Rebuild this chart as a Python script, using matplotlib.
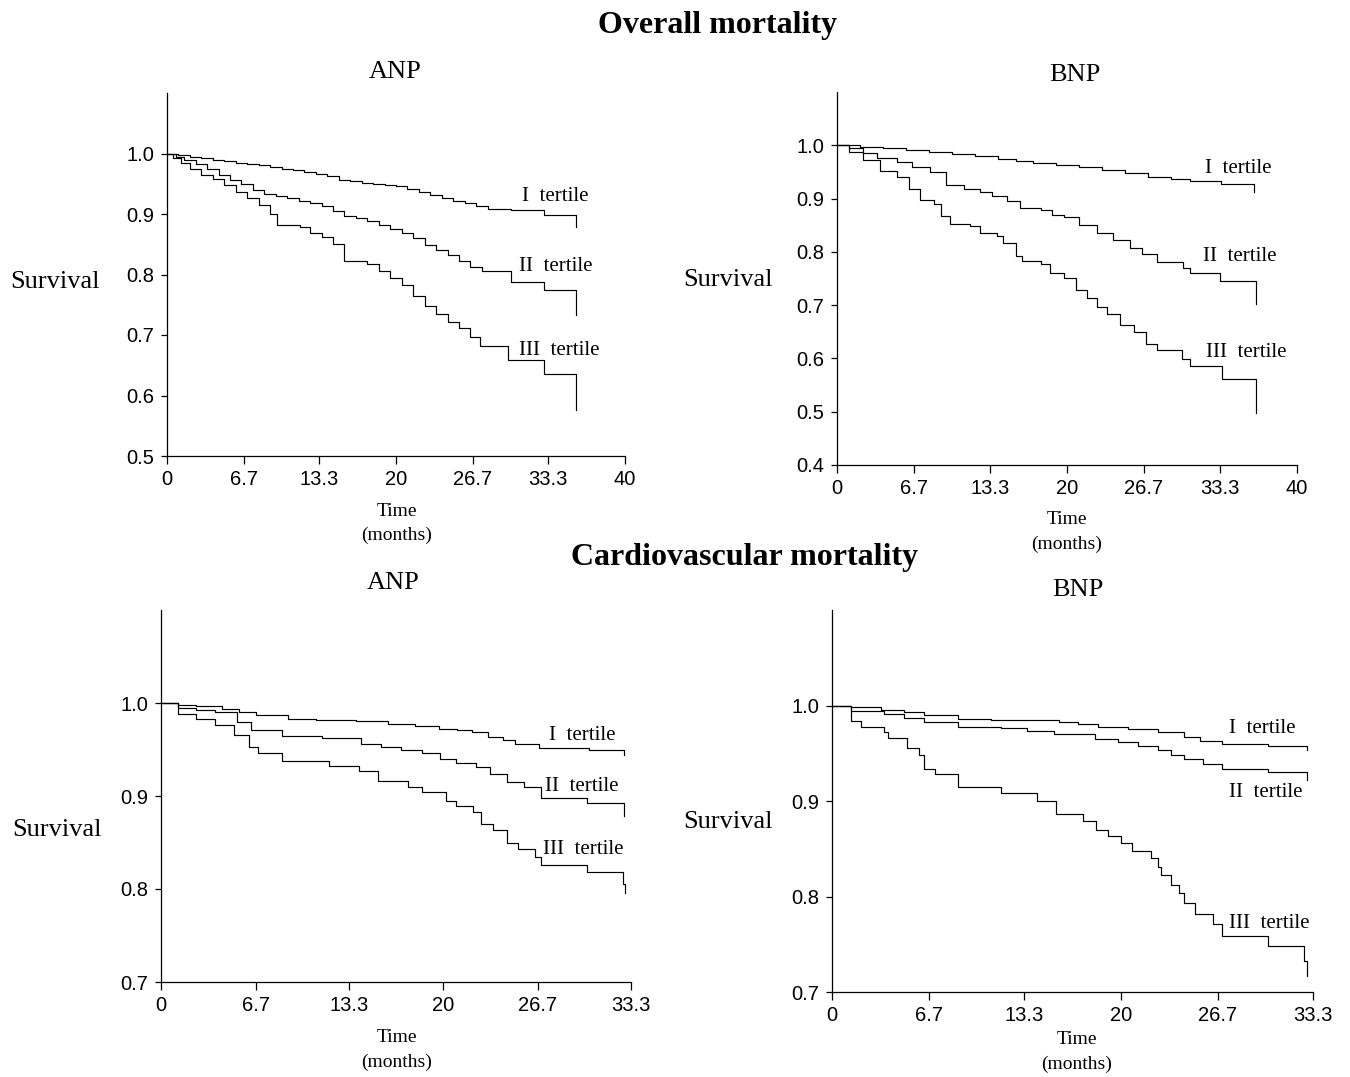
import matplotlib
matplotlib.use('Agg')
import matplotlib.pyplot as plt

# overall mortality, ANP tertiles
ov_anp_t1 = [0, 1, 2, 3, 4, 5, 6, 7, 8, 9, 10, 11, 12, 13, 14, 15, 16, 17, 18, 19, 20, 21, 22, 23, 24, 25, 26, 27, 28, 29, 30, 32.9, 35.7]
ov_anp_s1 = [1.0, 0.998, 0.995, 0.992, 0.99, 0.987, 0.985, 0.983, 0.981, 0.978, 0.975, 0.972, 0.969, 0.966, 0.962, 0.957, 0.955, 0.952, 0.95, 0.948, 0.946, 0.941, 0.936, 0.931, 0.926, 0.922, 0.918, 0.914, 0.909, 0.908, 0.906, 0.899, 0.879]
ov_anp_t2 = [0, 0.8, 1.5, 2.5, 3.5, 4.5, 5.5, 6.5, 7.5, 8.5, 9.5, 10.5, 11.5, 12.5, 13.5, 14.5, 15.5, 16.5, 17.5, 18.5, 19.5, 20.5, 21.5, 22.5, 23.5, 24.5, 25.5, 26.5, 27.5, 28.5, 30, 32.9, 35.7]
ov_anp_s2 = [1.0, 0.995, 0.99, 0.982, 0.974, 0.965, 0.957, 0.949, 0.94, 0.933, 0.93, 0.926, 0.922, 0.919, 0.914, 0.905, 0.896, 0.893, 0.888, 0.882, 0.876, 0.869, 0.86, 0.848, 0.84, 0.833, 0.822, 0.812, 0.806, 0.805, 0.788, 0.774, 0.733]
ov_anp_t3 = [0, 0.5, 1.2, 2, 3, 4, 5, 6, 7, 8, 9, 9.6, 11.6, 12.5, 13.5, 14.5, 15.5, 17.5, 18.5, 19.5, 20.5, 21.5, 22.5, 23.5, 24.5, 25.5, 26.5, 27.3, 29.8, 32.9, 35.7]
ov_anp_s3 = [1.0, 0.993, 0.985, 0.975, 0.965, 0.958, 0.948, 0.937, 0.926, 0.915, 0.9, 0.882, 0.879, 0.868, 0.862, 0.85, 0.822, 0.818, 0.806, 0.795, 0.782, 0.765, 0.748, 0.735, 0.722, 0.712, 0.697, 0.681, 0.658, 0.636, 0.576]

# overall mortality, BNP tertiles
ov_bnp_t1 = [0, 2, 4, 6, 8, 10, 12, 14, 15.6, 17, 19, 21, 23, 25, 27, 29, 30.7, 33.4, 36.3]
ov_bnp_s1 = [1.0, 0.997, 0.994, 0.991, 0.988, 0.984, 0.98, 0.975, 0.97, 0.967, 0.963, 0.96, 0.954, 0.948, 0.941, 0.937, 0.933, 0.927, 0.912]
ov_bnp_t2 = [0, 1, 2.3, 3.5, 5.2, 6.5, 8.1, 9.5, 11, 12.4, 13.5, 14.8, 15.9, 17.7, 18.7, 19.7, 21, 22.6, 24, 25.5, 26.5, 27.8, 30.1, 30.7, 33.3, 36.4]
ov_bnp_s2 = [1.0, 0.994, 0.985, 0.977, 0.969, 0.96, 0.95, 0.925, 0.918, 0.912, 0.905, 0.896, 0.882, 0.878, 0.87, 0.865, 0.851, 0.836, 0.822, 0.808, 0.796, 0.781, 0.77, 0.761, 0.746, 0.703]
ov_bnp_t3 = [0, 1, 2.3, 3.7, 5.2, 6.3, 7.2, 8.4, 9, 9.8, 11.6, 12.4, 13.9, 14.4, 15.6, 16.1, 17.7, 18.5, 19.7, 20.8, 21.7, 22.6, 23.5, 24.6, 25.8, 26.9, 27.8, 30, 30.7, 33.5, 36.4]
ov_bnp_s3 = [1.0, 0.988, 0.972, 0.951, 0.941, 0.918, 0.898, 0.89, 0.867, 0.852, 0.848, 0.836, 0.83, 0.817, 0.792, 0.782, 0.778, 0.761, 0.751, 0.729, 0.713, 0.697, 0.684, 0.662, 0.65, 0.627, 0.615, 0.599, 0.586, 0.561, 0.498]

# cardiovascular mortality, ANP tertiles
cv_anp_t1 = [0, 1.2, 2.5, 4.3, 5.5, 6.7, 9.0, 11, 13.8, 16.1, 18, 19.7, 21, 22, 23.2, 24.2, 25.1, 26.8, 30.3, 32.8]
cv_anp_s1 = [1.0, 0.998, 0.997, 0.994, 0.99, 0.987, 0.983, 0.982, 0.981, 0.977, 0.975, 0.972, 0.971, 0.969, 0.963, 0.96, 0.956, 0.952, 0.949, 0.944]
cv_anp_t2 = [0, 1.2, 2.5, 3.8, 5.4, 6.4, 8.6, 11.4, 14.2, 15.6, 17, 18.5, 19.8, 20.9, 22.3, 23.3, 24.5, 25.7, 26.9, 30.2, 32.8]
cv_anp_s2 = [1.0, 0.995, 0.993, 0.99, 0.98, 0.971, 0.964, 0.962, 0.956, 0.953, 0.95, 0.946, 0.94, 0.935, 0.931, 0.924, 0.915, 0.91, 0.898, 0.892, 0.879]
cv_anp_t3 = [0, 1.2, 2.5, 3.8, 5.2, 6.2, 6.9, 8.6, 11.9, 14.0, 15.4, 17.5, 18.5, 20.2, 20.9, 22.1, 22.7, 23.5, 24.5, 25.3, 26.5, 26.9, 30.2, 32.7, 32.9]
cv_anp_s3 = [1.0, 0.988, 0.983, 0.976, 0.966, 0.953, 0.946, 0.938, 0.932, 0.927, 0.916, 0.91, 0.904, 0.895, 0.889, 0.883, 0.87, 0.863, 0.85, 0.843, 0.834, 0.826, 0.818, 0.805, 0.796]

# cardiovascular mortality, BNP tertiles
cv_bnp_t1 = [0, 1.3, 3.4, 5, 6.4, 8.7, 11, 14, 15.7, 17, 18.4, 20.5, 22.6, 24.4, 25.5, 27, 30.2, 32.9]
cv_bnp_s1 = [1.0, 0.998, 0.995, 0.993, 0.99, 0.986, 0.985, 0.985, 0.983, 0.981, 0.978, 0.975, 0.972, 0.967, 0.963, 0.96, 0.958, 0.953]
cv_bnp_t2 = [0, 1.3, 3.6, 5, 6.4, 8.7, 11.7, 13.5, 15.4, 18.2, 19.8, 21.2, 22.6, 23.5, 24.4, 25.7, 27, 30.2, 32.9]
cv_bnp_s2 = [1.0, 0.994, 0.991, 0.987, 0.983, 0.978, 0.976, 0.973, 0.97, 0.965, 0.962, 0.958, 0.953, 0.948, 0.944, 0.939, 0.934, 0.93, 0.922]
cv_bnp_t3 = [0, 1.3, 2.0, 3.6, 3.9, 5.2, 6.0, 6.4, 7.1, 8.7, 11.7, 14.2, 15.5, 17.4, 18.3, 19.1, 20.0, 20.8, 22.1, 22.6, 22.8, 23.5, 24.0, 24.4, 25.1, 26.4, 27.0, 30.2, 32.7, 32.9]
cv_bnp_s3 = [1.0, 0.984, 0.977, 0.972, 0.966, 0.955, 0.948, 0.934, 0.928, 0.915, 0.908, 0.9, 0.886, 0.879, 0.87, 0.863, 0.856, 0.848, 0.84, 0.831, 0.823, 0.812, 0.804, 0.793, 0.782, 0.771, 0.759, 0.748, 0.732, 0.717]

tertile_names = ['I  tertile', 'II  tertile', 'III  tertile']
xticks_40 = [0, 6.7, 13.3, 20, 26.7, 33.3, 40]
xticks_33 = [0, 6.7, 13.3, 20, 26.7, 33.3]
xtick_labels_40 = ['0', '6.7', '13.3', '20', '26.7', '33.3', '40']
xtick_labels_33 = ['0', '6.7', '13.3', '20', '26.7', '33.3']

W, H = 1350, 1077
SERIF = 'Liberation Serif'
SANS = 'Liberation Sans'

fig = plt.figure(figsize=(W / 100, H / 100), dpi=100)


def px_axes(left, top, right, bottom):
    # axes box given in pixel coords of the figure
    return fig.add_axes([left / W, 1 - bottom / H, (right - left) / W, (bottom - top) / H])


def ftext(x, y, s, **kw):
    fig.text(x / W, 1 - y / H, s, family=SERIF, **kw)


def km_panel(ax, curves, xlim, ylim, yticks, xticks, xlabels, label_pos):
    for (t, s), (lx, ly), name in zip(curves, label_pos, tertile_names):
        ax.plot(t, s, drawstyle='steps-post', color='black', lw=0.85)
        ax.text(lx, ly, name, family=SERIF, fontsize=15, va='center', ha='left')
    ax.set_xlim(*xlim)
    ax.set_ylim(*ylim)
    ax.set_xticks(xticks)
    ax.set_xticklabels(xlabels)
    ax.set_yticks(yticks)
    ax.set_yticklabels(['%.1f' % v for v in yticks])
    for lab in ax.get_xticklabels() + ax.get_yticklabels():
        lab.set_family(SANS)
        lab.set_fontsize(14.5)
    ax.spines['top'].set_visible(False)
    ax.spines['right'].set_visible(False)
    for sp in ('left', 'bottom'):
        ax.spines[sp].set_linewidth(0.9)
    ax.tick_params(axis='y', direction='out', length=4, width=0.9, pad=5)
    ax.tick_params(axis='x', direction='out', length=6, width=0.9, pad=4)
    ax.patch.set_alpha(0)


# top-left: overall, ANP
ax1 = px_axes(167, 93, 625, 456)
km_panel(ax1, [(ov_anp_t1, ov_anp_s1), (ov_anp_t2, ov_anp_s2), (ov_anp_t3, ov_anp_s3)],
         (0, 40), (0.5, 1.1), [0.5, 0.6, 0.7, 0.8, 0.9, 1.0], xticks_40, xtick_labels_40,
         [(31.0, 0.929), (30.7, 0.813), (30.7, 0.674)])

# top-right: overall, BNP
ax2 = px_axes(837, 92, 1297, 465)
km_panel(ax2, [(ov_bnp_t1, ov_bnp_s1), (ov_bnp_t2, ov_bnp_s2), (ov_bnp_t3, ov_bnp_s3)],
         (0, 40), (0.4, 1.1), [0.4, 0.5, 0.6, 0.7, 0.8, 0.9, 1.0], xticks_40, xtick_labels_40,
         [(32.0, 0.956), (31.8, 0.791), (32.1, 0.611)])

# bottom-left: cardiovascular, ANP
ax3 = px_axes(161, 610, 631, 982)
km_panel(ax3, [(cv_anp_t1, cv_anp_s1), (cv_anp_t2, cv_anp_s2), (cv_anp_t3, cv_anp_s3)],
         (0, 33.3), (0.7, 1.1), [0.7, 0.8, 0.9, 1.0], xticks_33, xtick_labels_33,
         [(27.5, 0.965), (27.2, 0.910), (27.1, 0.843)])

# bottom-right: cardiovascular, BNP
ax4 = px_axes(832, 610, 1313, 992)
km_panel(ax4, [(cv_bnp_t1, cv_bnp_s1), (cv_bnp_t2, cv_bnp_s2), (cv_bnp_t3, cv_bnp_s3)],
         (0, 33.3), (0.7, 1.1), [0.7, 0.8, 0.9, 1.0], xticks_33, xtick_labels_33,
         [(27.5, 0.976), (27.5, 0.909), (27.5, 0.772)])

# headings and labels
ftext(718, 25, 'Overall mortality', fontsize=23, weight='bold', ha='center', va='center')
ftext(745, 557, 'Cardiovascular mortality', fontsize=23, weight='bold', ha='center', va='center')
ftext(395, 72, 'ANP', fontsize=19, ha='center', va='center')
ftext(1075, 75, 'BNP', fontsize=19, ha='center', va='center')
ftext(393, 583, 'ANP', fontsize=19, ha='center', va='center')
ftext(1078, 590, 'BNP', fontsize=19, ha='center', va='center')
for x, y in [(10, 282), (683, 280), (12, 830), (683, 822)]:
    ftext(x, y, 'Survival', fontsize=19, ha='left', va='center')
for x, y in [(397, 511), (1067, 520), (397, 1038), (1077, 1040)]:
    ftext(x, y, 'Time', fontsize=14, ha='center', va='center')
    ftext(x, y + 24, '(months)', fontsize=14, ha='center', va='center')

plt.savefig('out.png', dpi=100)
